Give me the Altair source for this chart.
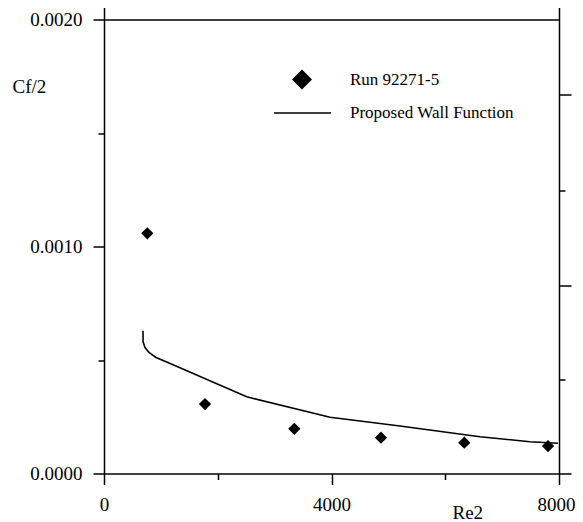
import altair as alt
import pandas as pd

# Experimental data (Run 92271-5)
re2_run = [761, 1776, 3346, 4870, 6335, 7807]
cf2_run = [0.001058, 0.000306, 0.000197, 0.000158, 0.000136, 0.000121]

# Proposed wall function curve
re2_wall = [686, 686, 721, 791, 914, 1102, 2509, 3974, 5204, 6611, 7490, 7982]
cf2_wall = [0.000629, 0.000581, 0.000555, 0.000533, 0.000511, 0.000491, 0.000338,
            0.000248, 0.000209, 0.000162, 0.000140, 0.000133]

x_major = [0, 4000, 8000]
x_minor = [2000, 6000]
y_major = [0.0, 0.0010, 0.0020]
y_minor = [0.0005, 0.0015]
top_ticks = [0, 8000]
right_major = [0.0, 0.000828, 0.00167]
right_minor = [0.000414, 0.001248]

run_df = pd.DataFrame({"Re2": re2_run, "Cf2": cf2_run, "s": ["Run 92271-5"] * len(re2_run)})
wall_df = pd.DataFrame({"Re2": re2_wall, "Cf2": cf2_wall, "i": list(range(len(re2_wall))),
                        "s": ["Proposed Wall Function"] * len(re2_wall)})

FONT = "Liberation Serif"
xs = alt.Scale(domain=[0, 8000], nice=False, zero=False)
ys = alt.Scale(domain=[0, 0.002], nice=False, zero=False)

common_axis = dict(domainColor="black", tickColor="black", domainWidth=1.5, tickWidth=1.5,
                   grid=False, labelFont=FONT, labelColor="black", labelFontSize=19,
                   labelFlush=False, labelOverlap=False, titleFont=FONT, titleFontSize=19,
                   titleFontWeight="normal", titleColor="black")

points = alt.Chart(run_df).mark_point(filled=True, size=150, color="black", opacity=1).encode(
    x=alt.X("Re2:Q", scale=xs, axis=alt.Axis(orient="bottom", values=x_major, tickSize=11,
            labelPadding=25.5, labelBaseline="alphabetic", format="d", title="Re2",
            labelOffset={"condition": {"test": "datum.value == 8000", "value": -3}, "value": 0},
            titleX=348, titleY=44.5, titleAlign="left", titleBaseline="alphabetic", **common_axis)),
    y=alt.Y("Cf2:Q", scale=ys, axis=alt.Axis(orient="left", values=y_major, tickSize=11,
            labelPadding=11, format=".4f", title="Cf/2", titleAngle=0, titleX=-92, titleY=72.5,
            titleAlign="left", titleBaseline="alphabetic", **common_axis)),
    shape=alt.Shape("s:N", scale=alt.Scale(range=["diamond"]),
                    legend=alt.Legend(orient="none", legendX=188, legendY=50, title=None,
                                      symbolSize=400, symbolFillColor="black",
                                      symbolStrokeColor="black", symbolStrokeWidth=0,
                                      labelFont=FONT, labelFontSize=17, labelColor="black",
                                      labelOffset=38, labelLimit=400, padding=0)),
)

line = alt.Chart(wall_df).mark_line(strokeWidth=1.6).encode(
    x=alt.X("Re2:Q", scale=xs, axis=alt.Axis(orient="bottom", values=x_minor, tickSize=6,
            labels=False, domain=False, title=None, **common_axis)),
    y=alt.Y("Cf2:Q", scale=ys, axis=alt.Axis(orient="left", values=y_minor, tickSize=6,
            labels=False, domain=False, title=None, **common_axis)),
    order=alt.Order("i:Q"),
    color=alt.Color("s:N", scale=alt.Scale(range=["black"]),
                    legend=alt.Legend(orient="none", legendX=169, legendY=64, title=None,
                                      symbolType="stroke", symbolSize=3249,
                                      symbolStrokeWidth=1.5, symbolStrokeColor="black",
                                      labelFont=FONT, labelFontSize=17, labelColor="black",
                                      labelOffset=18, labelLimit=400, padding=0)),
)

frame1 = alt.Chart(run_df).mark_point(opacity=0).encode(
    x=alt.X("Re2:Q", scale=xs, axis=alt.Axis(orient="top", values=top_ticks, tickSize=12,
            labels=False, title=None, **common_axis)),
    y=alt.Y("Cf2:Q", scale=ys, axis=alt.Axis(orient="right", values=right_major, tickSize=12,
            labels=False, title=None, **common_axis)),
)

frame2 = alt.Chart(run_df).mark_point(opacity=0).encode(
    x=alt.X("Re2:Q", scale=xs, axis=None),
    y=alt.Y("Cf2:Q", scale=ys, axis=alt.Axis(orient="right", values=right_minor, tickSize=6,
            labels=False, domain=False, title=None, **common_axis)),
)

chart = alt.layer(points, line, frame1, frame2).resolve_axis(
    x="independent", y="independent"
).properties(
    width=455, height=454,
    autosize=alt.AutoSizeParams(type="none"),
    padding={"left": 96, "top": 11.5, "right": 16, "bottom": 48},
    background="white",
).configure_view(stroke=None)

chart.save("out.html", embed_options={"renderer": "svg", "actions": False})
